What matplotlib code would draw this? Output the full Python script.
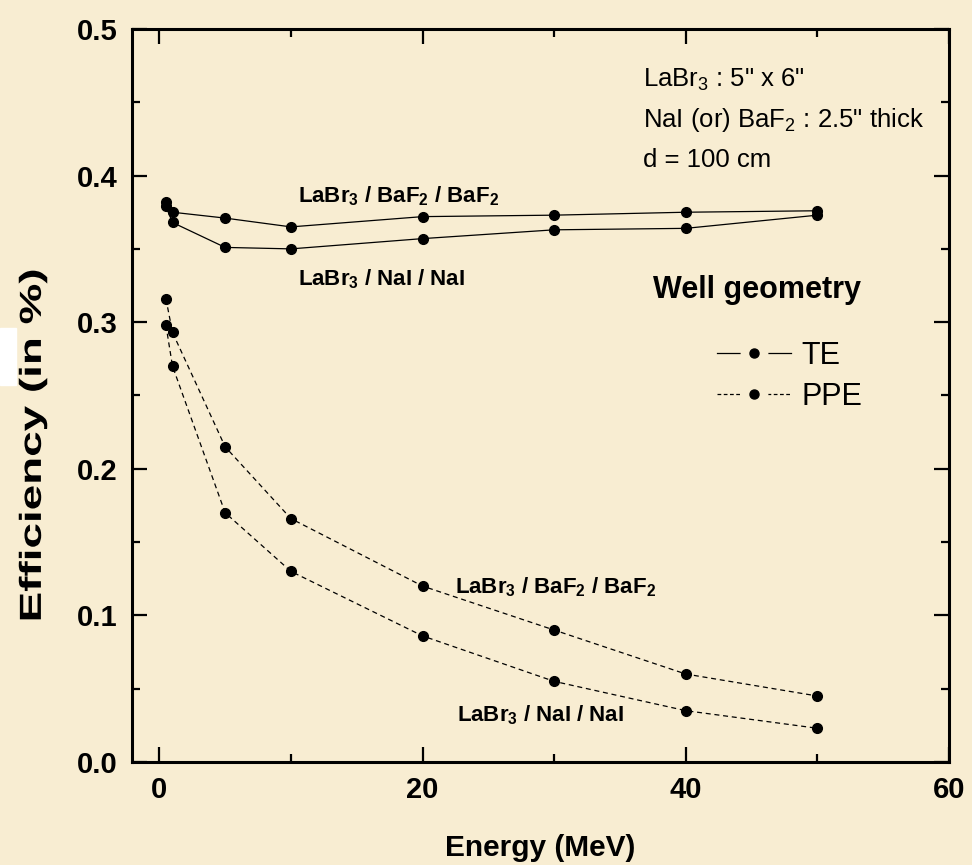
import matplotlib
matplotlib.use("Agg")
import matplotlib.pyplot as plt
import matplotlib.transforms as mtransforms
from matplotlib.lines import Line2D
from matplotlib.patches import Rectangle, PathPatch
from matplotlib.textpath import TextPath
from matplotlib.font_manager import FontProperties
from matplotlib.legend_handler import HandlerTuple
from matplotlib.ticker import MultipleLocator, FormatStrFormatter

plt.rcParams['font.family'] = ['Liberation Sans', 'DejaVu Sans']
plt.rcParams['mathtext.fontset'] = 'custom'
plt.rcParams['mathtext.rm'] = 'Liberation Sans'
plt.rcParams['mathtext.bf'] = 'Liberation Sans:bold'

# gamma energies (MeV) and efficiencies (in %) for the well geometry
energy = [0.5, 1, 5, 10, 20, 30, 40, 50]
te_baf2 = [0.382, 0.375, 0.371, 0.365, 0.372, 0.373, 0.375, 0.376]
te_nai = [0.379, 0.368, 0.351, 0.350, 0.357, 0.363, 0.364, 0.373]
ppe_baf2 = [0.316, 0.293, 0.215, 0.166, 0.120, 0.090, 0.060, 0.045]
ppe_nai = [0.298, 0.270, 0.170, 0.130, 0.086, 0.055, 0.035, 0.023]

bg = '#F8EDD2'
fig = plt.figure(figsize=(9.72, 8.65), dpi=100, facecolor=bg)
ax = fig.add_axes([0.1355, 0.1191, 0.8408, 0.8474])
ax.set_facecolor(bg)

te_style = dict(color='black', lw=0.9, marker='o', ms=7)
ppe_style = dict(color='black', lw=0.9, ls=(0, (4, 3)), marker='o', ms=7)
ax.plot(energy, te_baf2, **te_style)
ax.plot(energy, te_nai, **te_style)
ax.plot(energy, ppe_baf2, **ppe_style)
ax.plot(energy, ppe_nai, **ppe_style)

ax.set_xlim(-2.1, 60)
ax.set_ylim(0, 0.5)
ax.xaxis.set_major_locator(MultipleLocator(20))
ax.xaxis.set_minor_locator(MultipleLocator(10))
ax.yaxis.set_major_locator(MultipleLocator(0.1))
ax.yaxis.set_minor_locator(MultipleLocator(0.05))
ax.yaxis.set_major_formatter(FormatStrFormatter('%.1f'))
ax.tick_params(which='both', direction='in', top=True, right=True, width=1.6)
ax.tick_params(which='major', length=11, labelsize=21, pad=10)
ax.tick_params(which='minor', length=6)
for lab in ax.get_xticklabels() + ax.get_yticklabels():
    lab.set_fontweight('bold')
for sp in ax.spines.values():
    sp.set_linewidth(2.2)

ax.set_xlabel('Energy (MeV)', fontsize=21.5, fontweight='bold', labelpad=22)

# y label: tall, stretched lettering drawn as a path
fp = FontProperties(family='Liberation Sans', weight='bold')
ypath = TextPath((0, 0), 'Efficiency (in %)', prop=fp, size=22)
ext = ypath.get_extents()
ytrans = (mtransforms.Affine2D()
          .translate(-(ext.x0 + ext.x1) / 2, -(ext.y0 + ext.y1) / 2)
          .scale(1.5 / 72, 1 / 72)
          .rotate_deg(90)
          .translate(0.33, (865 - 445) / 100)
          + fig.dpi_scale_trans)
fig.add_artist(PathPatch(ypath, transform=ytrans, facecolor='black', lw=0, zorder=2))

# curve labels
lab_kw = dict(fontsize=16, fontweight='bold', va='baseline')
ax.text(10.5, 0.382, r'LaBr$_\mathbf{3}$ / BaF$_\mathbf{2}$ / BaF$_\mathbf{2}$', **lab_kw)
ax.text(10.5, 0.325, r'LaBr$_\mathbf{3}$ / NaI / NaI', **lab_kw)
ax.text(22.5, 0.115, r'LaBr$_\mathbf{3}$ / BaF$_\mathbf{2}$ / BaF$_\mathbf{2}$', **lab_kw)
ax.text(22.6, 0.0275, r'LaBr$_\mathbf{3}$ / NaI / NaI', **lab_kw)

# detector description
info_kw = dict(fontsize=18.5, va='baseline')
ax.text(36.75, 0.4606, r'LaBr$_3$ : 5" x 6"', **info_kw)
ax.text(36.75, 0.4334, r'NaI (or) BaF$_2$ : 2.5" thick', **info_kw)
ax.text(36.75, 0.406, 'd = 100 cm', **info_kw)

ax.text(37.5, 0.3165, 'Well geometry', fontsize=22, fontweight='bold', va='baseline')

# legend samples: line with a gap around the dot
def sample(ls):
    return (Line2D([], [], color='black', lw=0.9, ls=ls),
            Line2D([], [], ls='none', marker='o', ms=19, color=bg),
            Line2D([], [], ls='none', marker='o', ms=6.5, color='black'))

ax.legend([sample('-'), sample((0, (3, 2)))], ['TE', 'PPE'], loc='upper left',
          bbox_to_anchor=(42.4, 0.2875), bbox_transform=ax.transData,
          handler_map={tuple: HandlerTuple(ndivide=1)},
          frameon=False, fontsize=22, handlelength=2.4, handletextpad=0.35,
          labelspacing=0.38, borderpad=0, borderaxespad=0)

fig.add_artist(Rectangle((0, 1 - 385 / 865), 16 / 972, 57 / 865,
                         transform=fig.transFigure, color='white', zorder=-1))

fig.savefig('out.png', dpi=100, facecolor=bg)
